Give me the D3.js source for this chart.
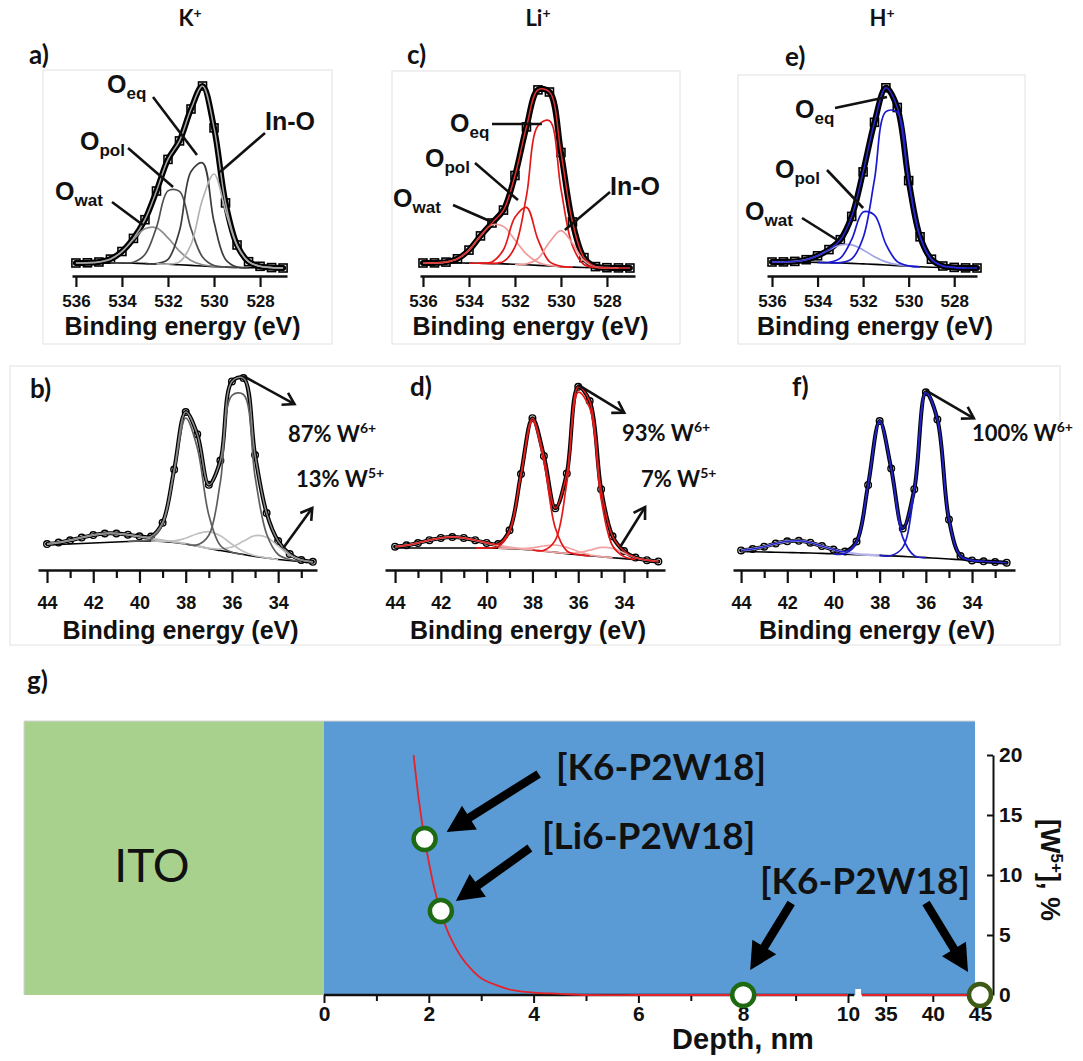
<!DOCTYPE html>
<html><head><meta charset="utf-8">
<script src="https://cdn.jsdelivr.net/npm/d3@7/dist/d3.min.js"></script>
<style>html,body{margin:0;padding:0;background:#fff}svg{display:block}</style>
</head><body>
<svg id="fig" width="1083" height="1061" xmlns="http://www.w3.org/2000/svg"></svg>
<script>
// ================= DATA =================
// O 1s region, binding energy grid (eV)
const o1sEnergy = [536,535.5,535,534.5,534,533.5,533,532.5,532,531.5,531,530.5,530,529.5,529,528.5,528,527.5,527];
// a) K+  (intensity above background, a.u.)
const aOwat = [0,0.2,1.0,3.9,11.5,23.8,34.8,36.0,26.4,13.6,5.0,1.3,0.2,0,0,0,0,0,0];
const aOpol = [0,0,0,0,0.1,1.1,9.1,36.6,73.4,73.4,36.6,9.1,1.1,0.1,0,0,0,0,0];
const aOeq  = [0,0,0,0,0,0,0,0.3,4.9,34.0,93.9,103.1,44.8,7.7,0.5,0,0,0,0];
const aInO  = [0,0,0,0,0,0,0,0,0.2,2.9,20.9,66.5,92.6,56.4,22.0,6.0,1.5,0.3,0];
const aBackground = [5,5,5,5,4.9,4.7,4.4,4.1,3.7,3.2,2.6,2.0,1.4,0.9,0.5,0.3,0.2,0.1,0];
// c) Li+
const cOwat = [0,0.1,0.9,4.2,13.0,27.3,38.8,37.3,24.3,10.7,3.2,0.6,0.1,0,0,0,0,0,0];
const cOpol = [0,0,0,0,0,0.1,1.6,14.2,47.0,57.4,25.8,4.3,0.3,0,0,0,0,0,0];
const cOeq  = [0,0,0,0,0,0,0.2,2.3,17.5,68.9,139.6,145.3,77.7,21.4,3.0,0.2,0,0,0];
const cInO  = [0,0,0,0,0,0,0,0,0,0.9,6.9,23.8,36.0,23.8,6.9,0.9,0.1,0,0];
const cBackground = [5,5,5,5,4.9,4.7,4.4,4.1,3.7,3.2,2.6,2.0,1.4,0.9,0.5,0.3,0.2,0.1,0];
// e) H+
const eOwat = [0,0.1,0.7,2.5,6.6,12.7,18.0,18.5,14.0,7.7,3.1,0.9,0.2,0,0,0,0,0,0];
const eOpol = [0,0,0,0,0,0.4,4.9,24.0,51.8,49.3,20.8,3.9,0.3,0,0,0,0,0,0];
const eOeq  = [0,0,0,0,0,0,0.4,4.5,26.2,85.1,153.3,153.3,85.1,30.0,8.0,1.5,0.3,0,0];
const eBackground = [6,6,5.9,5.8,5.6,5.3,5.0,4.6,4.1,3.6,3.0,2.4,1.8,1.2,0.8,0.5,0.3,0.1,0];

// W 4f region, binding energy grid (eV)
const w4fEnergy = [44,43.5,43,42.5,42,41.5,41,40.5,40,39.5,39,38.5,38,37.5,37,36.5,36,35.5,35,34.5,34,33.5,33,32.5];
// b) K+
const bW6a = [0,0,0,0,0,0,0,0,0,0,0,0,0,1.1,13.2,68.7,157,160,80,24,5,1,0,0];
const bW6b = [0,0,0,0,0,0,0,0,0.1,1.9,17.3,70.7,126,98.3,33.5,5.0,0.3,0,0,0,0,0,0,0];
const bW5a = [0,0,0,0,0,0,0,0,0,0,0,0,0,0,0.2,1.5,5.5,13.4,20.8,20.8,13.4,5.5,1.5,0.2];
const bW5b = [0,0,0,0,0,0,0,0,0,0,0.3,1.7,5.8,12.3,16.8,14.7,8.3,3.0,0.7,0.1,0,0,0,0];
const bW5p = [0.9,1.9,3.7,5.9,7.9,9.0,8.5,6.8,4.6,2.6,1.2,0.5,0.2,0.1,0,0,0,0,0,0,0,0,0,0];
const bBackground = [20,20.5,21,21.5,22,22.5,23,23.5,24,24,23.5,22.5,21,19,16.5,14.5,12.5,10.5,8.5,7,5.5,4.5,3.5,3];
// d) Li+
const dW6a = [0,0,0,0,0,0,0,0,0,0,0,0,0,0.8,12.2,70.7,162.6,148.1,58,12,2,0,0,0];
const dW6b = [0,0,0,0,0,0,0,0,0.1,1.5,16.9,74.2,129.4,89.3,24.4,2.7,0.1,0,0,0,0,0,0,0];
const dW5a = [0,0,0,0,0,0,0,0,0,0,0,0,0,0,0.1,0.4,2.0,5.6,9.4,9.4,5.6,2.0,0.4,0.1];
const dW5b = [0,0,0,0,0,0,0,0,0,0,0.1,0.5,2.2,5.2,7.4,6.4,3.3,1.0,0.2,0,0,0,0,0];
const dW5p = [1.3,2.7,5.0,7.8,10.1,11.0,10.1,7.8,5.0,2.7,1.3,0.5,0.2,0,0,0,0,0,0,0,0,0,0,0];
const dBackground = [17,17,17,17,17,17,17,17,17,16.8,16.4,15.8,15,13.8,12.6,11.4,10.2,9.2,8.2,7.3,6.4,5.4,4.4,3.5];
// f) H+
const fW6a = [0,0,0,0,0,0,0,0,0,0,0,0,0,0.4,9.0,66.4,165.3,138.9,39.4,3.7,0.1,0,0,0];
const fW6b = [0,0,0,0,0,0,0,0,0,0.7,12.3,69.9,134.3,86.9,19.0,1.4,0,0,0,0,0,0,0,0];
const fW5p = [1.1,2.7,5.3,8.6,11.2,12.0,10.3,7.3,4.2,1.9,0.7,0.2,0,0,0,0,0,0,0,0,0,0,0,0];
const fBackground = [13.5,13.3,13,12.8,12.5,12.2,12,11.6,11.2,10.8,10.4,10,9.6,9.1,8.6,8,7.4,6.7,6,5.2,4.5,3.7,3,2.3];

// tick values
const o1sTicks = [536,534,532,530,528];
const w4fMajorTicks = [44,42,40,38,36,34];
const w4fMinorTicks = [43,41,39,37,35,33];
const depthTicksNear = [0,2,4,6,8,10];
const depthMinorNear = [1,3,5,7,9];
const depthTicksDeep = [35,40,45];
const w5Ticks = [0,5,10,15,20];

// text
const ionNames = ["K","Li","H"];
const w6Shares = ["87%","93%","100%"];
const w5Shares = ["13%","7%"];
const regionNames = ["ITO"];

// g) depth profile of W5+ fraction
const depthCurve = [1.71,1.8,1.92,2.0,2.1,2.23,2.4,2.6,2.8,3.0,3.3,3.6,4.0,4.5,5,6,7,8,9,10];
const w5Curve    = [20,16.6,13.0,11.1,9.0,6.9,4.9,3.3,2.2,1.4,0.8,0.4,0.2,0.1,0,0,0,0,0,0];
const depthCurveDeep = [32.5,45];
const w5CurveDeep    = [0,0];
const sampleNames = ["[K6-P2W18]","[Li6-P2W18]","[K6-P2W18]","[K6-P2W18]"];
const sampleDepth = [1.92,2.23,8,45];
const sampleW5    = [13,7,0,0];

// ================= DRAWING =================
const svg = d3.select("#fig");
const SANS = "'Liberation Sans', Arial, Helvetica, sans-serif";
const CAL = "Lato, 'Open Sans', sans-serif";
const INK = "#111";

function addText(parent, x, y, parts, o = {}) {
  const t = parent.append("text").attr("x", x).attr("y", y)
    .attr("font-family", o.family || SANS).attr("font-weight", o.weight || "bold")
    .attr("fill", o.fill || INK).attr("text-anchor", o.anchor || "start");
  if (o.transform) t.attr("transform", o.transform);
  let shift = 0;
  parts.forEach(p => {
    const dy = (p.dy || 0) - shift;
    const ts = t.append("tspan").attr("font-size", p.size).text(p.t);
    if (dy) ts.attr("dy", dy);
    shift = p.dy || 0;
  });
  return t;
}

function vArrow(parent, x1, y1, x2, y2) {
  parent.append("line").attr("x1", x1).attr("y1", y1).attr("x2", x2).attr("y2", y2)
    .attr("stroke", INK).attr("stroke-width", 2.6);
  const a = Math.atan2(y2 - y1, x2 - x1), L = 13, w = 0.55;
  parent.append("path")
    .attr("d", `M${x2 - L*Math.cos(a - w)},${y2 - L*Math.sin(a - w)}L${x2},${y2}L${x2 - L*Math.cos(a + w)},${y2 - L*Math.sin(a + w)}`)
    .attr("fill", "none").attr("stroke", INK).attr("stroke-width", 2.6).attr("stroke-linejoin", "miter");
}

// panel frames
const frames = [[43,70,289,274],[392,71,288,273],[738,75,287,269],[10,366,1050,279]];
svg.selectAll("rect.frame").data(frames).join("rect").attr("class", "frame")
  .attr("x", d => d[0]).attr("y", d => d[1]).attr("width", d => d[2]).attr("height", d => d[3])
  .attr("fill", "none").attr("stroke", "#e2e2e2").attr("stroke-width", 1);

function drawSpectrum(p) {
  const g = svg.append("g");
  const x = d3.scaleLinear().domain(p.xDom).range(p.xRange);
  const y = d3.scaleLinear().domain([0, 200]).range([p.y0, p.y0 - 200]);
  const E = p.energy;
  const line = d3.line().x(d => x(d.e)).y(d => y(d.v)).curve(d3.curveCatmullRom.alpha(0.5));
  const dataPts = E.map((e, i) => ({ e, v: p.bg[i] + d3.sum(p.comps, c => c.v[i]) }));
  const bgPts = E.map((e, i) => ({ e, v: p.bg[i] }));

  // measured data: dense open markers
  g.append("path").attr("d", line(dataPts)).attr("fill", "none").attr("stroke", "#000")
    .attr("stroke-width", p.band).attr("stroke-linejoin", "round").attr("stroke-linecap", "round");
  if (p.marker === "square") {
    g.selectAll("rect.m").data(dataPts).join("rect").attr("class", "m")
      .attr("x", d => x(d.e) - 4).attr("y", d => y(d.v) - 4).attr("width", 8).attr("height", 8)
      .attr("fill", "none").attr("stroke", "#000").attr("stroke-width", 1.6);
  } else {
    g.selectAll("circle.m").data(dataPts).join("circle").attr("class", "m")
      .attr("cx", d => x(d.e)).attr("cy", d => y(d.v)).attr("r", 3.3)
      .attr("fill", "none").attr("stroke", "#000").attr("stroke-width", 1.4);
  }
  // background
  g.append("path").attr("d", line(bgPts)).attr("fill", "none").attr("stroke", "#000").attr("stroke-width", 1.6);
  // fitted components
  p.comps.forEach(c => {
    const idx = E.map((e, i) => i).filter(i => c.v[i] > 0 || c.v[i - 1] > 0 || c.v[i + 1] > 0);
    const pts = idx.map(i => ({ e: E[i], v: p.bg[i] + c.v[i] }));
    g.append("path").attr("d", line(pts)).attr("fill", "none").attr("stroke", c.c).attr("stroke-width", c.w || 1.7);
  });
  // fit envelope
  g.append("path").attr("d", line(dataPts)).attr("fill", "none").attr("stroke", p.env).attr("stroke-width", 1.5);

  // axis
  const ax = g.append("g").attr("transform", `translate(0,${p.axisY})`)
    .call(d3.axisBottom(x).tickValues(p.major).tickSize(p.majorLen).tickSizeOuter(0).tickFormat(d3.format("d")));
  ax.select(".domain").attr("stroke", INK).attr("stroke-width", 2.6);
  ax.selectAll(".tick line").attr("stroke", INK).attr("stroke-width", 2.2);
  ax.selectAll(".tick text").attr("font-family", SANS).attr("font-weight", "bold").attr("font-size", p.tickFs)
    .attr("fill", INK).attr("y", p.labelCenter - p.axisY).attr("dy", "0.36em");
  if (p.minor) {
    const mx = g.append("g").attr("transform", `translate(0,${p.axisY})`)
      .call(d3.axisBottom(x).tickValues(p.minor).tickSize(p.minorLen).tickSizeOuter(0).tickFormat(""));
    mx.select(".domain").remove();
    mx.selectAll(".tick line").attr("stroke", INK).attr("stroke-width", 2.2);
  }
  addText(g, (p.xRange[0] + p.xRange[1]) / 2 + 3, p.titleY, [{ t: "Binding energy (eV)", size: 25 }], { anchor: "middle" });
  return { g, x, y, dataPts };
}

// ---------- O 1s panels ----------
const o1sLayout = [
  { xRange:[72,287], xDom:[536.17,526.83], letter:[29,64,"a)"], title:190, env:"#a6a6a6",
    comps:[{v:aOwat,c:"#8d8d8d"},{v:aOpol,c:"#4f4f4f"},{v:aOeq,c:"#3b3b3b"},{v:aInO,c:"#b3b3b3"}], bg:aBackground,
    labels:[{t:"O",s:"wat",x:55,y:200,lx:112,ly:202,e:533.09,i:43},{t:"O",s:"pol",x:80,y:150,lx:128,ly:148,e:531.78,i:81},
            {t:"O",s:"eq",x:107,y:93,lx:153,ly:97,e:530.74,i:113},{t:"In-O",x:265,y:130,lx:265,ly:133,e:529.74,i:96}] },
  { xRange:[420,635], xDom:[536.13,526.78], letter:[407,64,"c)"], title:538, env:"#e03030",
    comps:[{v:cOwat,c:"#f09a9a"},{v:cOpol,c:"#e31818"},{v:cOeq,c:"#e31818"},{v:cInO,c:"#f09a9a"}], bg:cBackground,
    labels:[{t:"O",s:"wat",x:393,y:207,lx:453,ly:205,e:533.0,i:46},{t:"O",s:"pol",x:425,y:167,lx:475,ly:163,e:531.87,i:68},
            {t:"O",s:"eq",x:450,y:132,lx:492,ly:124,e:530.83,i:144},{t:"In-O",x:610,y:195,lx:610,ly:192,e:529.83,i:38}] },
  { xRange:[767,977], xDom:[536.22,527.0], letter:[785,66,"e)"], title:882, env:"#2a2ad0",
    comps:[{v:eOwat,c:"#a0a0e6"},{v:eOpol,c:"#1818d0"},{v:eOeq,c:"#1818d0"}], bg:eBackground,
    labels:[{t:"O",s:"wat",x:745,y:220,lx:802,ly:218,e:533.14,i:28},{t:"O",s:"pol",x:775,y:178,lx:827,ly:170,e:532.0,i:60},
            {t:"O",s:"eq",x:795,y:118,lx:835,ly:108,e:530.95,i:171}] }
];
o1sLayout.forEach((L, k) => {
  const s = drawSpectrum({ energy:o1sEnergy, xRange:L.xRange, xDom:L.xDom, y0:268, axisY:276, comps:L.comps, bg:L.bg,
    env:L.env, band:6, marker:"square", major:o1sTicks, majorLen:11, tickFs:17, labelCenter:301, titleY:335 });
  addText(svg, L.letter[0], L.letter[1], [{ t:L.letter[2], size:26 }], { family:CAL });
  addText(svg, L.title, 26, [{ t:ionNames[k], size:22 }, { t:"+", size:14, dy:-8 }], { family:CAL, anchor:"middle" });
  L.labels.forEach(lb => {
    const parts = lb.s ? [{ t:lb.t, size:25 }, { t:lb.s, size:17, dy:6 }] : [{ t:lb.t, size:25 }];
    addText(svg, lb.x, lb.y, parts);
    svg.append("line").attr("x1", lb.lx).attr("y1", lb.ly).attr("x2", s.x(lb.e)).attr("y2", s.y(lb.i))
      .attr("stroke", INK).attr("stroke-width", 2.6);
  });
});

// ---------- W 4f panels ----------
const w4fLayout = [
  { xRange:[38,317], xDom:[44.39,32.32], letter:[30,398,"b)"], env:"#8a8a8a",
    comps:[{v:bW5p,c:"#bcbcbc",w:2},{v:bW5b,c:"#c0c0c0"},{v:bW5a,c:"#c0c0c0"},{v:bW6b,c:"#5e5e5e"},{v:bW6a,c:"#5e5e5e"}], bg:bBackground,
    w6:{x:288,y:442,dx:51,dy:28}, w5:{x:296,y:487,e:33.78,i:17,dx:29,dy:-40} },
  { xRange:[385,665], xDom:[44.44,32.21], letter:[410,396,"d)"], env:"#e02020",
    comps:[{v:dW5p,c:"#eda7a7",w:2},{v:dW5b,c:"#f2a4a4"},{v:dW5a,c:"#f2a4a4"},{v:dW6b,c:"#e41818"},{v:dW6a,c:"#e41818"}], bg:dBackground,
    w6:{x:622,y:441,dx:46,dy:28}, w5:{x:641,y:487,e:34.17,i:18,dx:25,dy:-40} },
  { xRange:[733,1015], xDom:[44.35,32.14], letter:[792,396,"f)"], env:"#2424c8",
    comps:[{v:fW5p,c:"#b6b6ec",w:2.4},{v:fW6b,c:"#1c1cc8"},{v:fW6a,c:"#1c1cc8"}], bg:fBackground,
    w6:{x:972,y:441,dx:48,dy:28}, w5:null }
];
w4fLayout.forEach((L, k) => {
  const s = drawSpectrum({ energy:w4fEnergy, xRange:L.xRange, xDom:L.xDom, y0:565, axisY:570, comps:L.comps, bg:L.bg,
    env:L.env, band:4, marker:"circle", major:w4fMajorTicks, majorLen:13, minor:w4fMinorTicks, minorLen:8,
    tickFs:18, labelCenter:603, titleY:639 });
  addText(svg, L.letter[0], L.letter[1], [{ t:L.letter[2], size:26 }], { family:CAL });
  const top = s.dataPts.reduce((a, b) => b.v > a.v ? b : a);
  const sx = s.x(top.e), sy = s.y(top.v) - 2;
  vArrow(svg, sx, sy, sx + L.w6.dx, sy + L.w6.dy);
  addText(svg, L.w6.x, L.w6.y, [{ t:w6Shares[k] + " W", size:22 }, { t:"6+", size:14, dy:-9 }], { family:CAL });
  if (L.w5) {
    const ax0 = s.x(L.w5.e), ay0 = s.y(L.w5.i);
    vArrow(svg, ax0, ay0, ax0 + L.w5.dx, ay0 + L.w5.dy);
    addText(svg, L.w5.x, L.w5.y, [{ t:w5Shares[k] + " W", size:22 }, { t:"5+", size:14, dy:-9 }], { family:CAL });
  }
});

// ---------- g) depth profile ----------
addText(svg, 27, 690, [{ t:"g)", size:26 }], { family:CAL });
const gx1 = d3.scaleLinear().domain([0, 10]).range([324, 848]);
const gx2 = d3.scaleLinear().domain([32.5, 45]).range([862, 980]);
const gx = d => d <= 10.5 ? gx1(d) : gx2(d);
const gy = d3.scaleLinear().domain([0, 20]).range([995, 755]);
const gTop = 721, gBottom = 995, gLeft = 24, gRight = 975;
const G = svg.append("g");
G.append("rect").attr("x", gLeft).attr("y", gTop).attr("width", gx1(0) - gLeft).attr("height", gBottom - gTop).attr("fill", "#a9d18e");
G.append("rect").attr("x", gx1(0)).attr("y", gTop).attr("width", gRight - gx1(0)).attr("height", gBottom - gTop).attr("fill", "#5b9bd5");
G.append("path").attr("d", `M${gLeft},${gBottom}V${gTop}H${gRight}`).attr("fill", "none").attr("stroke", "#d4d4d4");
addText(G, 152, 882, [{ t:regionNames[0], size:46 }], { family:CAL, weight:"normal", anchor:"middle" });

// bottom axis (broken)
G.append("line").attr("x1", gx1(0)).attr("x2", gx1(10.12)).attr("y1", gBottom).attr("y2", gBottom).attr("stroke", INK).attr("stroke-width", 2.4);
G.append("line").attr("x1", gx2(32.5)).attr("x2", gx2(45)).attr("y1", gBottom).attr("y2", gBottom).attr("stroke", INK).attr("stroke-width", 2.4);
const axN = G.append("g").attr("transform", `translate(0,${gBottom})`)
  .call(d3.axisBottom(gx1).tickValues(depthTicksNear).tickSize(8).tickSizeOuter(0).tickFormat(d3.format("d")));
const axNm = G.append("g").attr("transform", `translate(0,${gBottom})`)
  .call(d3.axisBottom(gx1).tickValues(depthMinorNear).tickSize(6).tickSizeOuter(0).tickFormat(""));
const axD = G.append("g").attr("transform", `translate(0,${gBottom})`)
  .call(d3.axisBottom(gx2).tickValues(depthTicksDeep).tickSize(7).tickSizeOuter(0).tickFormat(d3.format("d")));
[axN, axNm, axD].forEach(a => {
  a.select(".domain").remove();
  a.selectAll(".tick line").attr("stroke", INK).attr("stroke-width", 2);
  a.selectAll(".tick text").attr("font-family", SANS).attr("font-weight", "bold").attr("font-size", 21)
    .attr("fill", INK).attr("y", 1013 - gBottom).attr("dy", "0.36em");
});
addText(G, 743, 1049, [{ t:"Depth, nm", size:29 }], { anchor:"middle" });

// right axis
const axR = G.append("g").attr("transform", `translate(993,0)`)
  .call(d3.axisRight(gy).tickValues(w5Ticks).tickSizeInner(-6).tickSizeOuter(0).tickPadding(6).tickFormat(d3.format("d")));
axR.select(".domain").attr("stroke", INK).attr("stroke-width", 2);
axR.selectAll(".tick line").attr("stroke", INK).attr("stroke-width", 2);
axR.selectAll(".tick text").attr("font-family", SANS).attr("font-weight", "bold").attr("font-size", 21).attr("fill", INK);
addText(G, 0, 0, [{ t:"[W", size:27 }, { t:"5+", size:17, dy:-10 }, { t:"], %", size:27, dy:0 }],
  { anchor:"middle", transform:"translate(1041,870) rotate(90)" });

// fitted decay curve
const redLine = d3.line().x(d => gx(d[0])).y(d => gy(d[1])).curve(d3.curveCatmullRom.alpha(0.5));
G.append("path").attr("d", redLine(depthCurve.map((d, i) => [d, w5Curve[i]]))).attr("fill", "none")
  .attr("stroke", "#e3232b").attr("stroke-width", 1.8);
G.append("path").attr("d", redLine(depthCurveDeep.map((d, i) => [d, w5CurveDeep[i]]))).attr("fill", "none")
  .attr("stroke", "#e3232b").attr("stroke-width", 2.2);
// axis break notch
G.append("rect").attr("x", gx1(10.12) + 1).attr("y", gBottom - 6).attr("width", gx2(32.5) - gx1(10.12) - 2).attr("height", 10).attr("fill", "#fff");

// samples
const pts = sampleDepth.map((d, i) => ({ name:sampleNames[i], d, w:sampleW5[i], cx:gx(d), cy:gy(sampleW5[i]) }));
G.selectAll("circle.s").data(pts).join("circle").attr("class", "s")
  .attr("cx", p => p.cx).attr("cy", p => p.cy).attr("r", 11)
  .attr("fill", "#fff").attr("stroke", (p, i) => i === pts.length - 1 ? "#3d5b14" : "#1e6a12").attr("stroke-width", 4.5);

// annotation arrows (tip offset from the sample point, tail vector from the tip)
const arrowLayout = [
  { s:0, tip:[22,-7], tail:[92,-58] },
  { s:1, tip:[15,-10], tail:[74,-53] },
  { s:2, tip:[7,-25], tail:[41,-67] },
  { s:3, tip:[-12,-23], tail:[-42,-69] }
];
arrowLayout.forEach(a => {
  const p = pts[a.s];
  const tx = p.cx + a.tip[0], ty = p.cy + a.tip[1];
  const bx = tx + a.tail[0], by = ty + a.tail[1];
  const ang = Math.atan2(ty - by, tx - bx);
  const H = 27, W = 14;
  const hx = tx - H * Math.cos(ang), hy = ty - H * Math.sin(ang);
  G.append("line").attr("x1", bx).attr("y1", by).attr("x2", hx + 2 * Math.cos(ang)).attr("y2", hy + 2 * Math.sin(ang))
    .attr("stroke", "#000").attr("stroke-width", 8.5);
  const nx = -Math.sin(ang), ny = Math.cos(ang);
  G.append("path").attr("d", `M${tx},${ty}L${hx + W * nx},${hy + W * ny}L${hx - W * nx},${hy - W * ny}Z`).attr("fill", "#000");
});
const labelLayout = [ { s:0, x:556, y:780 }, { s:1, x:542, y:849 }, { s:2, x:760, y:894 } ];
labelLayout.forEach(l => addText(G, l.x, l.y, [{ t:pts[l.s].name, size:37 }], { family:CAL, weight:"bold" }));
</script>
</body></html>
